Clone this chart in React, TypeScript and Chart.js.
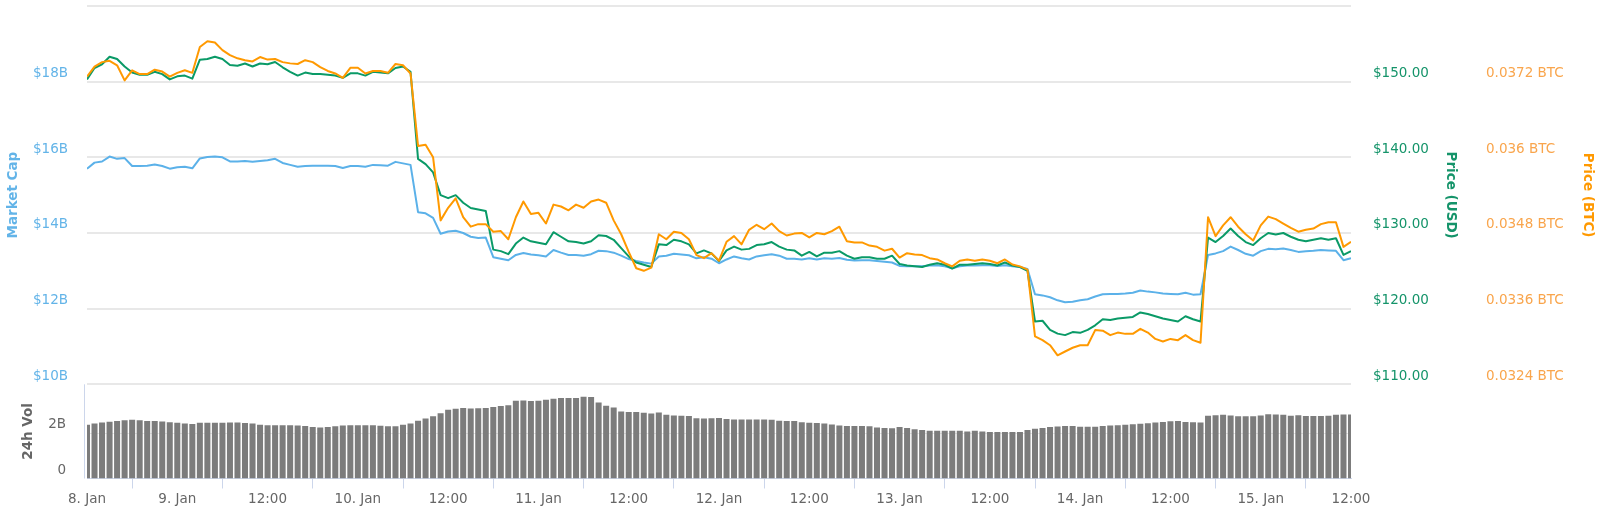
import React, { useEffect, useRef } from "react";
import { Chart, registerables } from "chart.js";

Chart.register(...registerables);

const FONT = "'DejaVu Sans', Verdana, sans-serif";

// x axis: hours since 8 Jan 12:00 (one point per hour)
const xTickHours = [0, 12, 24, 36, 48, 60, 72, 84, 96, 108, 120, 132, 144, 156, 168];
const xTickLabels = [
  "8. Jan", "9. Jan", "12:00", "10. Jan", "12:00", "11. Jan", "12:00", "12. Jan",
  "12:00", "13. Jan", "12:00", "14. Jan", "12:00", "15. Jan", "12:00",
];

const capTicks = [10, 12, 14, 16, 18, 20];
const capTickLabels = ["$10B", "$12B", "$14B", "$16B", "$18B", ""];
const usdTicks = [110, 120, 130, 140, 150];
const usdTickLabels = ["$110.00", "$120.00", "$130.00", "$140.00", "$150.00"];
const btcTicks = [0.0324, 0.0336, 0.0348, 0.036, 0.0372];
const btcTickLabels = ["0.0324 BTC", "0.0336 BTC", "0.0348 BTC", "0.036 BTC", "0.0372 BTC"];
const volTicks = [0, 2];
const volTickLabels = ["0", "2B"];

// Market cap (billions USD)
const marketCap = [
  15.70, 15.86, 15.89, 16.02, 15.96, 15.98, 15.77, 15.77, 15.78, 15.81,
  15.77, 15.70, 15.74, 15.75, 15.71, 15.97, 16.01, 16.02, 16.00, 15.89,
  15.89, 15.90, 15.88, 15.90, 15.92, 15.96, 15.85, 15.80, 15.75, 15.77,
  15.78, 15.78, 15.78, 15.77, 15.72, 15.77, 15.77, 15.75, 15.80, 15.79,
  15.78, 15.88, 15.84, 15.80, 14.55, 14.52, 14.40, 13.98, 14.04, 14.06,
  14.00, 13.90, 13.87, 13.88, 13.36, 13.32, 13.28, 13.42, 13.47, 13.43,
  13.41, 13.38, 13.55, 13.48, 13.42, 13.42, 13.40, 13.44, 13.53, 13.52,
  13.48, 13.40, 13.31, 13.26, 13.22, 13.19, 13.38, 13.40, 13.45, 13.43,
  13.41, 13.33, 13.36, 13.32, 13.20, 13.30, 13.38, 13.33, 13.30, 13.38,
  13.41, 13.44, 13.40, 13.32, 13.32, 13.30, 13.33, 13.30, 13.33, 13.32,
  13.34, 13.29, 13.27, 13.28, 13.28, 13.26, 13.24, 13.22, 13.13, 13.12,
  13.12, 13.12, 13.14, 13.15, 13.12, 13.07, 13.12, 13.14, 13.14, 13.15,
  13.15, 13.13, 13.15, 13.12, 13.10, 13.05, 12.38, 12.35, 12.30, 12.22,
  12.17, 12.18, 12.22, 12.25, 12.32, 12.38, 12.39, 12.39, 12.40, 12.42,
  12.48, 12.45, 12.43, 12.40, 12.39, 12.38, 12.42, 12.37, 12.38, 13.42,
  13.46, 13.52, 13.64, 13.55, 13.45, 13.40, 13.52, 13.58, 13.57, 13.59,
  13.55, 13.50, 13.52, 13.53, 13.55, 13.54, 13.53, 13.28, 13.33,
];

// Price (USD)
const priceUsd = [
  150.3, 151.8, 152.3, 153.3, 153.0, 152.0, 151.2, 150.9, 150.9, 151.3,
  151.0, 150.3, 150.7, 150.8, 150.4, 152.9, 153.0, 153.3, 153.0, 152.2,
  152.1, 152.4, 152.0, 152.4, 152.3, 152.6, 151.9, 151.3, 150.8, 151.2,
  151.0, 151.0, 150.9, 150.8, 150.5, 151.1, 151.1, 150.8, 151.3, 151.2,
  151.1, 151.8, 152.0, 151.3, 139.8, 139.1, 138.0, 135.0, 134.6, 135.0,
  134.0, 133.3, 133.1, 132.9, 127.8, 127.6, 127.2, 128.6, 129.4, 128.9,
  128.7, 128.5, 130.1, 129.5, 128.9, 128.8, 128.6, 128.9, 129.7, 129.6,
  129.1, 128.0, 126.9, 126.1, 125.8, 125.5, 128.5, 128.4, 129.1, 128.9,
  128.5, 127.3, 127.7, 127.3, 126.3, 127.7, 128.2, 127.8, 127.9, 128.4,
  128.5, 128.8, 128.2, 127.8, 127.7, 127.0, 127.5, 126.9, 127.4, 127.4,
  127.6, 127.0, 126.6, 126.8, 126.8, 126.6, 126.6, 127.0, 125.9, 125.7,
  125.6, 125.5, 125.8, 126.0, 125.8, 125.3, 125.8, 125.8, 125.9, 126.0,
  125.9, 125.7, 126.1, 125.7, 125.5, 125.0, 118.3, 118.4, 117.2, 116.7,
  116.5, 116.9, 116.8, 117.2, 117.8, 118.6, 118.5, 118.7, 118.8, 118.9,
  119.5, 119.3, 119.0, 118.7, 118.5, 118.3, 119.0, 118.6, 118.3, 129.4,
  128.8, 129.6, 130.6, 129.6, 128.8, 128.4, 129.3, 130.0, 129.8, 130.0,
  129.5, 129.1, 128.9, 129.1, 129.3, 129.1, 129.3, 127.1, 127.6,
];

// Price (BTC)
const priceBtc = [
  0.03728, 0.03744, 0.03751, 0.03753, 0.03746, 0.03722, 0.03738, 0.03732, 0.03732, 0.03739,
  0.03736, 0.03728, 0.03734, 0.03738, 0.03734, 0.03775, 0.03784, 0.03782, 0.03770, 0.03762,
  0.03757, 0.03754, 0.03752, 0.03759, 0.03755, 0.03756, 0.03751, 0.03749, 0.03748, 0.03754,
  0.03751, 0.03743, 0.03737, 0.03733, 0.03726, 0.03742, 0.03742, 0.03733, 0.03737, 0.03737,
  0.03734, 0.03748, 0.03746, 0.03733, 0.03618, 0.03620, 0.03600, 0.03500, 0.03520, 0.03535,
  0.03505, 0.03490, 0.03494, 0.03494, 0.03482, 0.03483, 0.03470, 0.03505, 0.03530, 0.03510,
  0.03512, 0.03495, 0.03525, 0.03522, 0.03516, 0.03525, 0.03520, 0.03530, 0.03533, 0.03528,
  0.03500, 0.03478, 0.03450, 0.03424, 0.03420, 0.03425, 0.03478, 0.03470, 0.03482, 0.03480,
  0.03470, 0.03445, 0.03440, 0.03448, 0.03436, 0.03466, 0.03475, 0.03462, 0.03485, 0.03493,
  0.03486, 0.03495, 0.03483, 0.03476, 0.03479, 0.03480, 0.03473, 0.03480, 0.03478, 0.03483,
  0.03490, 0.03467, 0.03465, 0.03465, 0.03460, 0.03458, 0.03452, 0.03455, 0.03441, 0.03448,
  0.03446, 0.03445, 0.03440, 0.03438, 0.03432, 0.03427, 0.03436, 0.03438, 0.03436, 0.03438,
  0.03436, 0.03432, 0.03438, 0.03430, 0.03427, 0.03422, 0.03316, 0.03310, 0.03302, 0.03286,
  0.03292, 0.03298, 0.03302, 0.03302, 0.03326, 0.03325, 0.03318, 0.03322, 0.03320, 0.03320,
  0.03328, 0.03322, 0.03312, 0.03308, 0.03312, 0.03310, 0.03318, 0.03310, 0.03306, 0.03505,
  0.03475, 0.03492, 0.03505, 0.03490, 0.03478, 0.03468, 0.03492, 0.03506, 0.03502, 0.03495,
  0.03488, 0.03482, 0.03485, 0.03487, 0.03494, 0.03497, 0.03497, 0.03458, 0.03466,
];

// 24h volume (billions USD)
const volume = [
  2.35, 2.40, 2.45, 2.48, 2.51, 2.54, 2.57, 2.54, 2.51, 2.51,
  2.49, 2.46, 2.43, 2.40, 2.38, 2.43, 2.43, 2.43, 2.43, 2.44,
  2.44, 2.42, 2.40, 2.35, 2.33, 2.33, 2.33, 2.33, 2.31, 2.29,
  2.25, 2.23, 2.25, 2.28, 2.31, 2.33, 2.33, 2.33, 2.33, 2.30,
  2.28, 2.28, 2.35, 2.40, 2.52, 2.62, 2.72, 2.85, 3.00, 3.05,
  3.08, 3.06, 3.07, 3.08, 3.12, 3.16, 3.20, 3.39, 3.41, 3.38,
  3.40, 3.44, 3.48, 3.51, 3.51, 3.52, 3.57, 3.56, 3.32, 3.18,
  3.10, 2.92, 2.90, 2.90, 2.87, 2.84, 2.88, 2.78, 2.75, 2.74,
  2.73, 2.63, 2.62, 2.63, 2.64, 2.60, 2.58, 2.58, 2.58, 2.58,
  2.58, 2.57, 2.52, 2.51, 2.51, 2.46, 2.43, 2.42, 2.40, 2.36,
  2.31, 2.29, 2.29, 2.29, 2.28, 2.23, 2.21, 2.19, 2.25, 2.20,
  2.15, 2.12, 2.09, 2.09, 2.08, 2.08, 2.08, 2.05, 2.08, 2.05,
  2.03, 2.03, 2.03, 2.03, 2.03, 2.12, 2.17, 2.20, 2.25, 2.27,
  2.29, 2.29, 2.26, 2.26, 2.26, 2.29, 2.31, 2.33, 2.35, 2.37,
  2.39, 2.41, 2.45, 2.47, 2.50, 2.51, 2.47, 2.46, 2.45, 2.74,
  2.76, 2.78, 2.75, 2.72, 2.72, 2.72, 2.75, 2.80, 2.79, 2.78,
  2.74, 2.76, 2.73, 2.73, 2.73, 2.74, 2.78, 2.79, 2.79,
];

const COL_CAP = "#5bb1e9";
const COL_CAP_TEXT = "#63b4e8";
const COL_USD = "#0a9a67";
const COL_USD_TEXT = "#15946a";
const COL_BTC = "#ff9900";
const COL_BTC_TEXT = "#f9a54c";
const COL_VOL = "#7c7c7c";

const toPts = (arr: number[]) => arr.map((v, i) => ({ x: i, y: v }));

const overlayPlugin = {
  id: "overlay",
  beforeDatasetsDraw(chart: any) {
    const { ctx, chartArea } = chart;
    const vol = chart.scales.yVol;
    ctx.save();
    const y2 = Math.round(vol.getPixelForValue(2)) + 0.5;
    ctx.strokeStyle = "#e6e6e6";
    ctx.lineWidth = 1;
    ctx.beginPath();
    ctx.moveTo(chartArea.left, y2);
    ctx.lineTo(chartArea.right, y2);
    ctx.stroke();
    ctx.restore();
  },
  afterDraw(chart: any) {
    const { ctx, chartArea } = chart;
    const vol = chart.scales.yVol;
    const cap = chart.scales.yCap;
    const usd = chart.scales.yUsd;
    const btc = chart.scales.yBtc;
    ctx.save();
    // volume axis line
    const xl = Math.round(chartArea.left - 3) + 0.5;
    ctx.strokeStyle = "#ccd6eb";
    ctx.lineWidth = 1;
    ctx.beginPath();
    ctx.moveTo(xl, cap.getPixelForValue(10));
    ctx.lineTo(xl, chartArea.bottom);
    ctx.stroke();
    // volume tick labels
    ctx.font = `13.5px ${FONT}`;
    ctx.fillStyle = "#666666";
    ctx.textAlign = "right";
    ctx.textBaseline = "middle";
    volTicks.forEach((v, i) => {
      ctx.fillText(volTickLabels[i], chartArea.left - 21, vol.getPixelForValue(v) - 8.5);
    });
    // axis titles
    ctx.font = `bold 13.5px ${FONT}`;
    ctx.textAlign = "center";
    const mainMid = (cap.getPixelForValue(20) + cap.getPixelForValue(10)) / 2;
    const volMid = (cap.getPixelForValue(10) + chartArea.bottom) / 2;
    const drawRot = (text: string, x: number, y: number, ang: number, color: string) => {
      ctx.save();
      ctx.translate(x, y);
      ctx.rotate(ang);
      ctx.fillStyle = color;
      ctx.fillText(text, 0, 0);
      ctx.restore();
    };
    drawRot("Market Cap", 13, mainMid, -Math.PI / 2, COL_CAP_TEXT);
    drawRot("24h Vol", 28, volMid, -Math.PI / 2, "#666666");
    drawRot("Price (USD)", usd.left + 99, mainMid, Math.PI / 2, COL_USD_TEXT);
    drawRot("Price (BTC)", btc.left + 123, mainMid, Math.PI / 2, COL_BTC);
    ctx.restore();
  },
};

export default function App() {
  const ref = useRef<HTMLCanvasElement>(null);

  useEffect(() => {
    const font = { family: FONT, size: 13.5 };
    const chart = new Chart(ref.current as HTMLCanvasElement, {
      type: "line",
      data: {
        datasets: [
          {
            type: "line",
            label: "Price (BTC)",
            data: toPts(priceBtc),
            yAxisID: "yBtc",
            borderColor: COL_BTC,
            borderWidth: 2,
            pointRadius: 0,
            tension: 0,
            borderJoinStyle: "round",
            order: 0,
          },
          {
            type: "line",
            label: "Price (USD)",
            data: toPts(priceUsd),
            yAxisID: "yUsd",
            borderColor: COL_USD,
            borderWidth: 2,
            pointRadius: 0,
            tension: 0,
            borderJoinStyle: "round",
            order: 1,
          },
          {
            type: "line",
            label: "Market Cap",
            data: toPts(marketCap),
            yAxisID: "yCap",
            borderColor: COL_CAP,
            borderWidth: 2,
            pointRadius: 0,
            tension: 0,
            borderJoinStyle: "round",
            order: 2,
          },
          {
            type: "bar",
            label: "24h Vol",
            data: toPts(volume),
            yAxisID: "yVol",
            backgroundColor: COL_VOL,
            borderWidth: 0,
            barPercentage: 0.8,
            categoryPercentage: 1,
            order: 3,
          } as any,
        ],
      },
      options: {
        animation: false,
        responsive: false,
        devicePixelRatio: 1,
        layout: { padding: { top: 6, left: 0, right: 0, bottom: 0 } },
        plugins: { legend: { display: false }, tooltip: { enabled: false } },
        scales: {
          x: {
            type: "linear",
            min: 0,
            max: 168,
            bounds: "data",
            offset: false,
            afterBuildTicks: (s: any) => {
              s.ticks = xTickHours.map((v) => ({ value: v }));
            },
            afterFit: (s: any) => {
              s.height = 40.5;
              s.paddingLeft = 0;
              s.paddingRight = 0;
            },
            ticks: {
              autoSkip: false,
              maxRotation: 0,
              minRotation: 0,
              padding: 3,
              color: "#666666",
              font,
              callback: (_v: any, i: number) => xTickLabels[i],
            },
            grid: {
              display: true,
              drawOnChartArea: false,
              drawTicks: true,
              tickLength: 10,
              color: "#ccd6eb",
              lineWidth: 1,
            },
            border: { display: true, color: "#ccd6eb", width: 1 },
          },
          yCap: {
            type: "linear",
            position: "left",
            min: 7.51,
            max: 20,
            bounds: "data",
            afterBuildTicks: (s: any) => {
              s.ticks = capTicks.map((v) => ({ value: v }));
            },
            afterFit: (s: any) => {
              s.width = 87;
              s.paddingTop = 0;
              s.paddingBottom = 0;
            },
            ticks: {
              padding: 19,
              labelOffset: -8,
              color: COL_CAP_TEXT,
              font,
              callback: (_v: any, i: number) => capTickLabels[i],
            },
            grid: { color: "#e8e8e8", lineWidth: 2, drawTicks: false },
            border: { display: false },
          },
          yUsd: {
            type: "linear",
            position: "right",
            weight: 0,
            min: 97.55,
            max: 160,
            bounds: "data",
            afterBuildTicks: (s: any) => {
              s.ticks = usdTicks.map((v) => ({ value: v }));
            },
            afterFit: (s: any) => {
              s.width = 113;
              s.paddingTop = 0;
              s.paddingBottom = 0;
            },
            ticks: {
              padding: 22,
              labelOffset: -8,
              color: COL_USD_TEXT,
              font,
              callback: (_v: any, i: number) => usdTickLabels[i],
            },
            grid: { display: false, drawTicks: false },
            border: { display: false },
          },
          yBtc: {
            type: "linear",
            position: "right",
            weight: 1,
            min: 0.030906,
            max: 0.0384,
            bounds: "data",
            afterBuildTicks: (s: any) => {
              s.ticks = btcTicks.map((v) => ({ value: v }));
            },
            afterFit: (s: any) => {
              s.width = 136;
              s.paddingTop = 0;
              s.paddingBottom = 0;
            },
            ticks: {
              padding: 22,
              labelOffset: -8,
              color: COL_BTC_TEXT,
              font,
              callback: (_v: any, i: number) => btcTickLabels[i],
            },
            grid: { display: false, drawTicks: false },
            border: { display: false },
          },
          yVol: {
            type: "linear",
            display: false,
            min: 0,
            max: 20.63,
          },
        },
      } as any,
      plugins: [overlayPlugin],
    });
    return () => chart.destroy();
  }, []);

  return (
    <div
      style={{
        position: "absolute",
        left: 0,
        top: 0,
        width: 1600,
        height: 519,
        background: "#ffffff",
      }}
    >
      <canvas
        ref={ref}
        width={1600}
        height={519}
        style={{ display: "block", width: 1600, height: 519 }}
      />
    </div>
  );
}
